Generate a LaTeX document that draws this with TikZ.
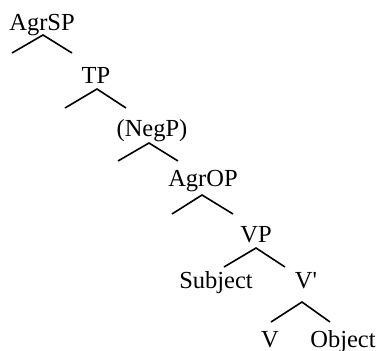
\documentclass[tikz,border=0pt]{standalone}
\usepackage{fontspec}
\setmainfont{Liberation Serif}
\newfontfamily\plainserif{Liberation Serif}
\begin{document}
\begin{tikzpicture}[x=1pt,y=-1pt,
  lab/.style={anchor=base,inner sep=0pt,font=\plainserif\fontsize{24.5}{28}\selectfont},
  branch/.style={line width=1.6pt}]
\useasboundingbox (0,0) rectangle (381,351);
% labels
\node[lab] (agrsp) at (42,30) {AgrSP};
\node[lab] (tp) at (96,83) {TP};
\node[lab] (negp) at (152,136) {(NegP)};
\node[lab] (agrop) at (203,186) {AgrOP};
\node[lab] (vp) at (256,242) {VP};
\node[lab] (subj) at (216,288) {Subject};
\node[lab] (vbar) at (306,288) {V'};
\node[lab] (v) at (270,347) {V};
\node[lab] (obj) at (343,347) {Object};
% branch points
\coordinate (a1) at (43,35);  \coordinate (l1) at (12,53);  \coordinate (r1) at (72,53);
\coordinate (a2) at (97,89);  \coordinate (l2) at (65,108); \coordinate (r2) at (126,108);
\coordinate (a3) at (149,143);\coordinate (l3) at (118,161);\coordinate (r3) at (178,161);
\coordinate (a4) at (202,195);\coordinate (l4) at (172,214);\coordinate (r4) at (233,214);
\coordinate (a5) at (256,248);\coordinate (l5) at (224,267);\coordinate (r5) at (285,267);
\coordinate (a6) at (302,302);\coordinate (l6) at (271,322);\coordinate (r6) at (330,322);
\draw[branch] (l1) -- (a1) -- (r1);
\draw[branch] (l2) -- (a2) -- (r2);
\draw[branch] (l3) -- (a3) -- (r3);
\draw[branch] (l4) -- (a4) -- (r4);
\draw[branch] (l5) -- (a5) -- (r5);
\draw[branch] (l6) -- (a6) -- (r6);
\end{tikzpicture}
\end{document}
